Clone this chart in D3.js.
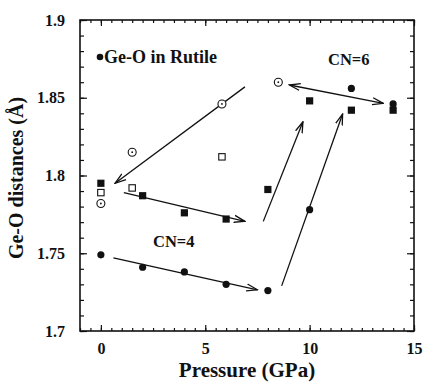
<!DOCTYPE html>
<html>
<head>
<meta charset="utf-8">
<script src="https://cdn.jsdelivr.net/npm/d3@7"></script>
<style>
  body { margin: 0; background: #fff; }
</style>
</head>
<body>
<div class="chart"></div>
<script>
// pressure values (GPa) and Ge-O distances
var pressure = [0, 2, 4, 6, 8, 10, 12, 14];
var rutileCircle = [1.749, 1.741, 1.738, 1.730, 1.726, 1.778, 1.856, 1.846];
var filledSquare = [1.795, 1.787, 1.776, 1.772, 1.791, 1.848, 1.842, 1.842];
var openSquareP = [0, 1.5, 5.8];
var openSquareD = [1.789, 1.792, 1.812];
var openCircleP = [0, 1.5, 5.8, 8.5];
var openCircleD = [1.782, 1.815, 1.846, 1.860];
var xTicks = [0, 5, 10, 15];
var yTicks = [1.7, 1.75, 1.8, 1.85, 1.9];
// arrows: [p1, d1, p2, d2, double-headed]
var arrows = [
  [0.6, 1.747, 7.5, 1.7265, false],
  [1.1, 1.789, 6.9, 1.7705, false],
  [6.9, 1.857, 0.68, 1.795, false],
  [7.78, 1.7705, 9.68, 1.8345, false],
  [8.66, 1.729, 11.58, 1.8395, false],
  [9.03, 1.8582, 13.53, 1.8464, true]
];

var FONT = "'Liberation Serif', 'Times New Roman', Times, serif";

var margin = {top: 20, right: 13, bottom: 52, left: 80},
    width = 427 - margin.left - margin.right,
    height = 383 - margin.top - margin.bottom;

var svg = d3.select(".chart").append("svg")
    .attr("width", 427)
    .attr("height", 383);

var defs = svg.append("defs");
defs.append("marker")
    .attr("id", "head")
    .attr("viewBox", "0 -5 12 10")
    .attr("refX", 11).attr("refY", 0)
    .attr("markerWidth", 12).attr("markerHeight", 10)
    .attr("markerUnits", "userSpaceOnUse")
    .attr("orient", "auto-start-reverse")
    .append("path")
    .attr("d", "M0,-3.5L11,0L0,3.5")
    .attr("fill", "none")
    .attr("stroke", "#111")
    .attr("stroke-width", 1.3);

var g = svg.append("g").attr("transform", "translate(" + margin.left + "," + margin.top + ")");

var x = d3.scaleLinear().domain([-1, 15]).range([0, width]);
var y = d3.scaleLinear().domain([1.7, 1.9]).range([height, 0]);

var minorX = d3.range(-1, 15.01, 0.5);
var minorY = d3.range(1.7, 1.9001, 0.01);

function styleAxis(sel) {
  sel.select(".domain").remove();
  sel.selectAll("line").attr("stroke", "#111").attr("stroke-width", 1.2);
  sel.attr("font-family", null);
  sel.selectAll("text")
    .style("font-family", FONT)
    .style("font-weight", "bold")
    .style("font-size", "16px")
    .attr("fill", "#111");
}

// minor ticks on all four sides
g.append("g").attr("transform", "translate(0," + height + ")")
  .call(d3.axisBottom(x).tickValues(minorX).tickSize(-3).tickFormat("")).call(styleAxis);
g.append("g")
  .call(d3.axisTop(x).tickValues(minorX).tickSize(-3).tickFormat("")).call(styleAxis);
g.append("g")
  .call(d3.axisLeft(y).tickValues(minorY).tickSize(-4).tickFormat("")).call(styleAxis);
g.append("g").attr("transform", "translate(" + width + ",0)")
  .call(d3.axisRight(y).tickValues(minorY).tickSize(-4).tickFormat("")).call(styleAxis);

// major ticks with labels
g.append("g").attr("transform", "translate(0," + height + ")")
  .call(d3.axisBottom(x).tickValues(xTicks).tickSize(-6).tickPadding(12).tickFormat(d3.format("d")))
  .call(styleAxis);
g.append("g").call(d3.axisTop(x).tickValues(xTicks).tickSize(-6).tickFormat("")).call(styleAxis);

g.append("g")
  .call(d3.axisLeft(y).tickValues(yTicks).tickSize(-7).tickPadding(15).tickFormat(function(d) { return String(+d.toFixed(2)); }))
  .call(styleAxis);
g.append("g").attr("transform", "translate(" + width + ",0)")
  .call(d3.axisRight(y).tickValues(yTicks).tickSize(-7).tickFormat("")).call(styleAxis);

// frame
g.append("rect")
  .attr("width", width).attr("height", height)
  .attr("fill", "none").attr("stroke", "#111").attr("stroke-width", 1.6);

// arrows
g.selectAll(".arrow").data(arrows).enter().append("line")
  .attr("class", "arrow")
  .attr("x1", function(d) { return x(d[0]); })
  .attr("y1", function(d) { return y(d[1]); })
  .attr("x2", function(d) { return x(d[2]); })
  .attr("y2", function(d) { return y(d[3]); })
  .attr("stroke", "#111")
  .attr("stroke-width", 1.3)
  .attr("marker-end", "url(#head)")
  .attr("marker-start", function(d) { return d[4] ? "url(#head)" : null; });

// filled circles (Ge-O in rutile)
g.selectAll(".fc").data(pressure).enter().append("circle")
  .attr("cx", function(d) { return x(d); })
  .attr("cy", function(d, i) { return y(rutileCircle[i]); })
  .attr("r", 3.6)
  .attr("fill", "#111");

// filled squares
g.selectAll(".fs").data(pressure).enter().append("rect")
  .attr("x", function(d) { return x(d) - 3.6; })
  .attr("y", function(d, i) { return y(filledSquare[i]) - 3.6; })
  .attr("width", 7.2).attr("height", 7.2)
  .attr("fill", "#111");

// open squares
g.selectAll(".os").data(openSquareP).enter().append("rect")
  .attr("x", function(d) { return x(d) - 3.2; })
  .attr("y", function(d, i) { return y(openSquareD[i]) - 3.2; })
  .attr("width", 6.4).attr("height", 6.4)
  .attr("fill", "#fff").attr("stroke", "#111").attr("stroke-width", 1.1);

// open circles with centre dot
var oc = g.selectAll(".oc").data(openCircleP).enter().append("g")
  .attr("transform", function(d, i) { return "translate(" + x(d) + "," + y(openCircleD[i]) + ")"; });
oc.append("circle").attr("r", 4).attr("fill", "#fff").attr("stroke", "#111").attr("stroke-width", 1.1);
oc.append("circle").attr("r", 0.9).attr("fill", "#111");

function label(sel, size) {
  return sel.style("font-family", FONT).style("font-weight", "bold")
    .style("font-size", size).attr("fill", "#111");
}

// legend and labels
svg.append("circle").attr("cx", 100).attr("cy", 57).attr("r", 3.3).attr("fill", "#111");
svg.append("text").attr("x", 104).attr("y", 63).text("Ge-O in Rutile").call(label, "18px");
svg.append("text").attr("x", 328).attr("y", 65).text("CN=6").call(label, "16.5px");
svg.append("text").attr("x", 153).attr("y", 247).text("CN=4").call(label, "16.5px");

// axis titles
svg.append("text")
  .attr("x", margin.left + x(7)).attr("y", 377)
  .attr("text-anchor", "middle")
  .text("Pressure (GPa)").call(label, "21px");
svg.append("text")
  .attr("transform", "translate(23,178) rotate(-90)")
  .attr("text-anchor", "middle")
  .text("Ge-O distances (Å)").call(label, "20px");
</script>
</body>
</html>
